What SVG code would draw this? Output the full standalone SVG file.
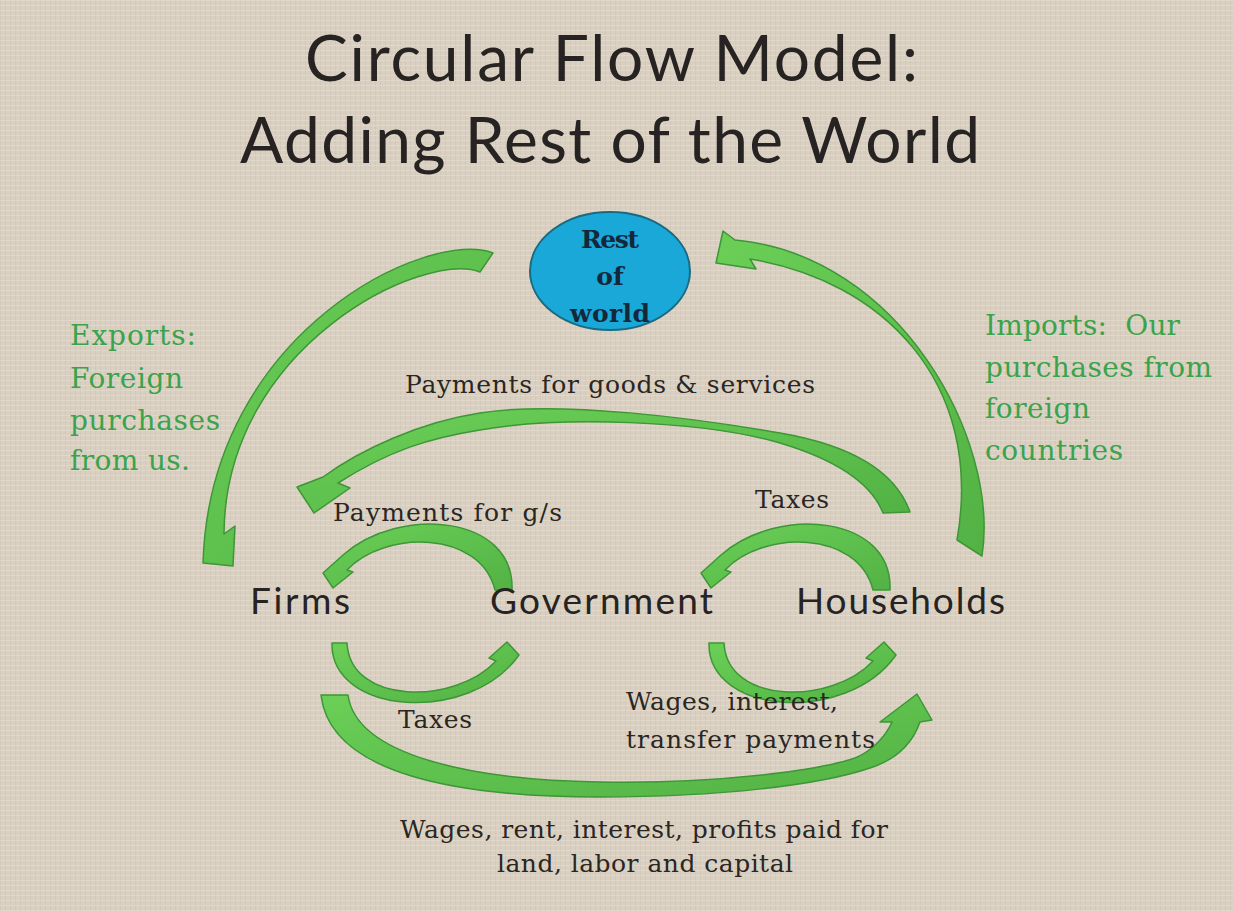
<svg xmlns="http://www.w3.org/2000/svg" width="1233" height="911" viewBox="0 0 1233 911">
<defs>
<pattern id="linen" width="5" height="5" patternUnits="userSpaceOnUse">
<rect width="5" height="5" fill="#d9d0c2"/>
<rect width="1" height="5" fill="#cdc3b3" opacity="0.6"/>
<rect width="5" height="1" fill="#e4dccf" opacity="0.7"/>
</pattern>
<linearGradient id="grn" x1="0" y1="0" x2="1" y2="1">
<stop offset="0" stop-color="#6bcf57"/>
<stop offset="1" stop-color="#52b244"/>
</linearGradient>
</defs>
<style>
.arrow{fill:url(#grn);stroke:#3e9636;stroke-width:1.5;stroke-linejoin:round}
.title{font-family:Lato,"Open Sans",sans-serif;font-size:64px;fill:#262322}
.node{font-family:Lato,"Open Sans",sans-serif;font-size:37px;fill:#262322}
.lbl{font-family:"DejaVu Serif","Liberation Serif",serif;font-size:25px;fill:#2b2622}
.glbl{font-family:"DejaVu Serif","Liberation Serif",serif;font-size:28px;fill:#3aa34b}
.row{font-family:"DejaVu Serif","Liberation Serif",serif;font-size:25px;font-weight:bold;fill:#14283a}
</style>
<rect width="1233" height="911" fill="url(#linen)"/>

<g id="title">
<text class="title" x="305" y="81" textLength="613">Circular Flow Model:</text>
<text class="title" x="240" y="163" textLength="740">Adding Rest of the World</text>
</g>

<g id="label-imports">
<text class="glbl" x="985" y="335" textLength="195" xml:space="preserve">Imports:  Our</text>
<text class="glbl" x="985" y="377" textLength="227">purchases from</text>
<text class="glbl" x="985" y="418" textLength="105">foreign</text>
<text class="glbl" x="985" y="460" textLength="138">countries</text>
</g>

<g id="connectors">
<path id="exports" class="arrow" d="M 493,253 C 430,228 210,330 203,563 L 233,566 L 235,526 L 224,534 C 225,345 425,250 480,272 Z"/>
<path id="imports" class="arrow" d="M 982,556 C 1000,440 900,255 735,240 L 723,231 L 716,263 L 756,269 L 750,259 C 880,280 985,380 957,540 Z"/>
<path id="pay-gs" class="arrow" d="M 910,512 C 895,470 850,445 780,433 C 700,419 560,400 480,413 C 420,422 360,450 323,477 L 297,487 L 314,513 L 350,488 L 338,483 C 390,450 430,438 480,430 C 560,416 700,420 780,443 C 830,458 870,480 883,513 Z"/>
<path id="gov-firms" class="arrow" d="M 512,590 C 515,515 400,505 343,555 L 323,573 L 333,588 L 353,572 L 347,570 C 385,530 480,530 495,590 Z"/>
<path id="hh-gov" class="arrow" transform="translate(378,0)" d="M 512,590 C 515,515 400,505 343,555 L 323,573 L 333,588 L 353,572 L 347,570 C 385,530 480,530 495,590 Z"/>
<path id="firms-gov" class="arrow" d="M 347,643 C 350,705 455,705 496,661 L 489,658 L 507,642 L 519,655 C 470,725 330,715 332,643 Z"/>
<path id="gov-hh" class="arrow" transform="translate(377,0)" d="M 347,643 C 350,705 455,705 496,661 L 489,658 L 507,642 L 519,655 C 470,725 330,715 332,643 Z"/>
<path id="firms-hh" class="arrow" d="M 348,695 C 356,755 470,780 600,782 C 720,784 820,770 855,758 C 870,752 885,738 892,722 L 880,722 L 917,694 L 932,720 L 920,722 C 912,745 895,760 870,768 C 820,785 720,797 600,797 C 460,797 330,775 321,695 Z"/>
</g>

<g id="rest-of-world">
<ellipse cx="610" cy="271" rx="80" ry="59" fill="#19a8d8" stroke="#1b6a80" stroke-width="2"/>
<text class="row" x="610" y="248" text-anchor="middle" textLength="58">Rest</text>
<text class="row" x="610" y="285" text-anchor="middle">of</text>
<text class="row" x="610" y="322" text-anchor="middle" textLength="80">world</text>
</g>

<g id="firms"><text class="node" x="250" y="614" textLength="100">Firms</text></g>
<g id="government"><text class="node" x="490" y="614" textLength="223">Government</text></g>
<g id="households"><text class="node" x="796" y="614" textLength="209">Households</text></g>

<g id="label-exports">
<text class="glbl" x="70" y="345" textLength="126">Exports:</text>
<text class="glbl" x="70" y="388" textLength="113">Foreign</text>
<text class="glbl" x="70" y="430" textLength="150">purchases</text>
<text class="glbl" x="70" y="470" textLength="120">from us.</text>
</g>

<g id="labels">
<text class="lbl" x="405" y="393" textLength="410">Payments for goods &amp; services</text>
<text class="lbl" x="333" y="521" textLength="229">Payments for g/s</text>
<text class="lbl" x="755" y="508" textLength="74">Taxes</text>
<text class="lbl" x="398" y="728" textLength="74">Taxes</text>
<text class="lbl" x="626" y="710" textLength="212">Wages, interest,</text>
<text class="lbl" x="626" y="748" textLength="249">transfer payments</text>
<text class="lbl" x="400" y="838" textLength="488">Wages, rent, interest, profits paid for</text>
<text class="lbl" x="497" y="872" textLength="296">land, labor and capital</text>
</g>
</svg>
